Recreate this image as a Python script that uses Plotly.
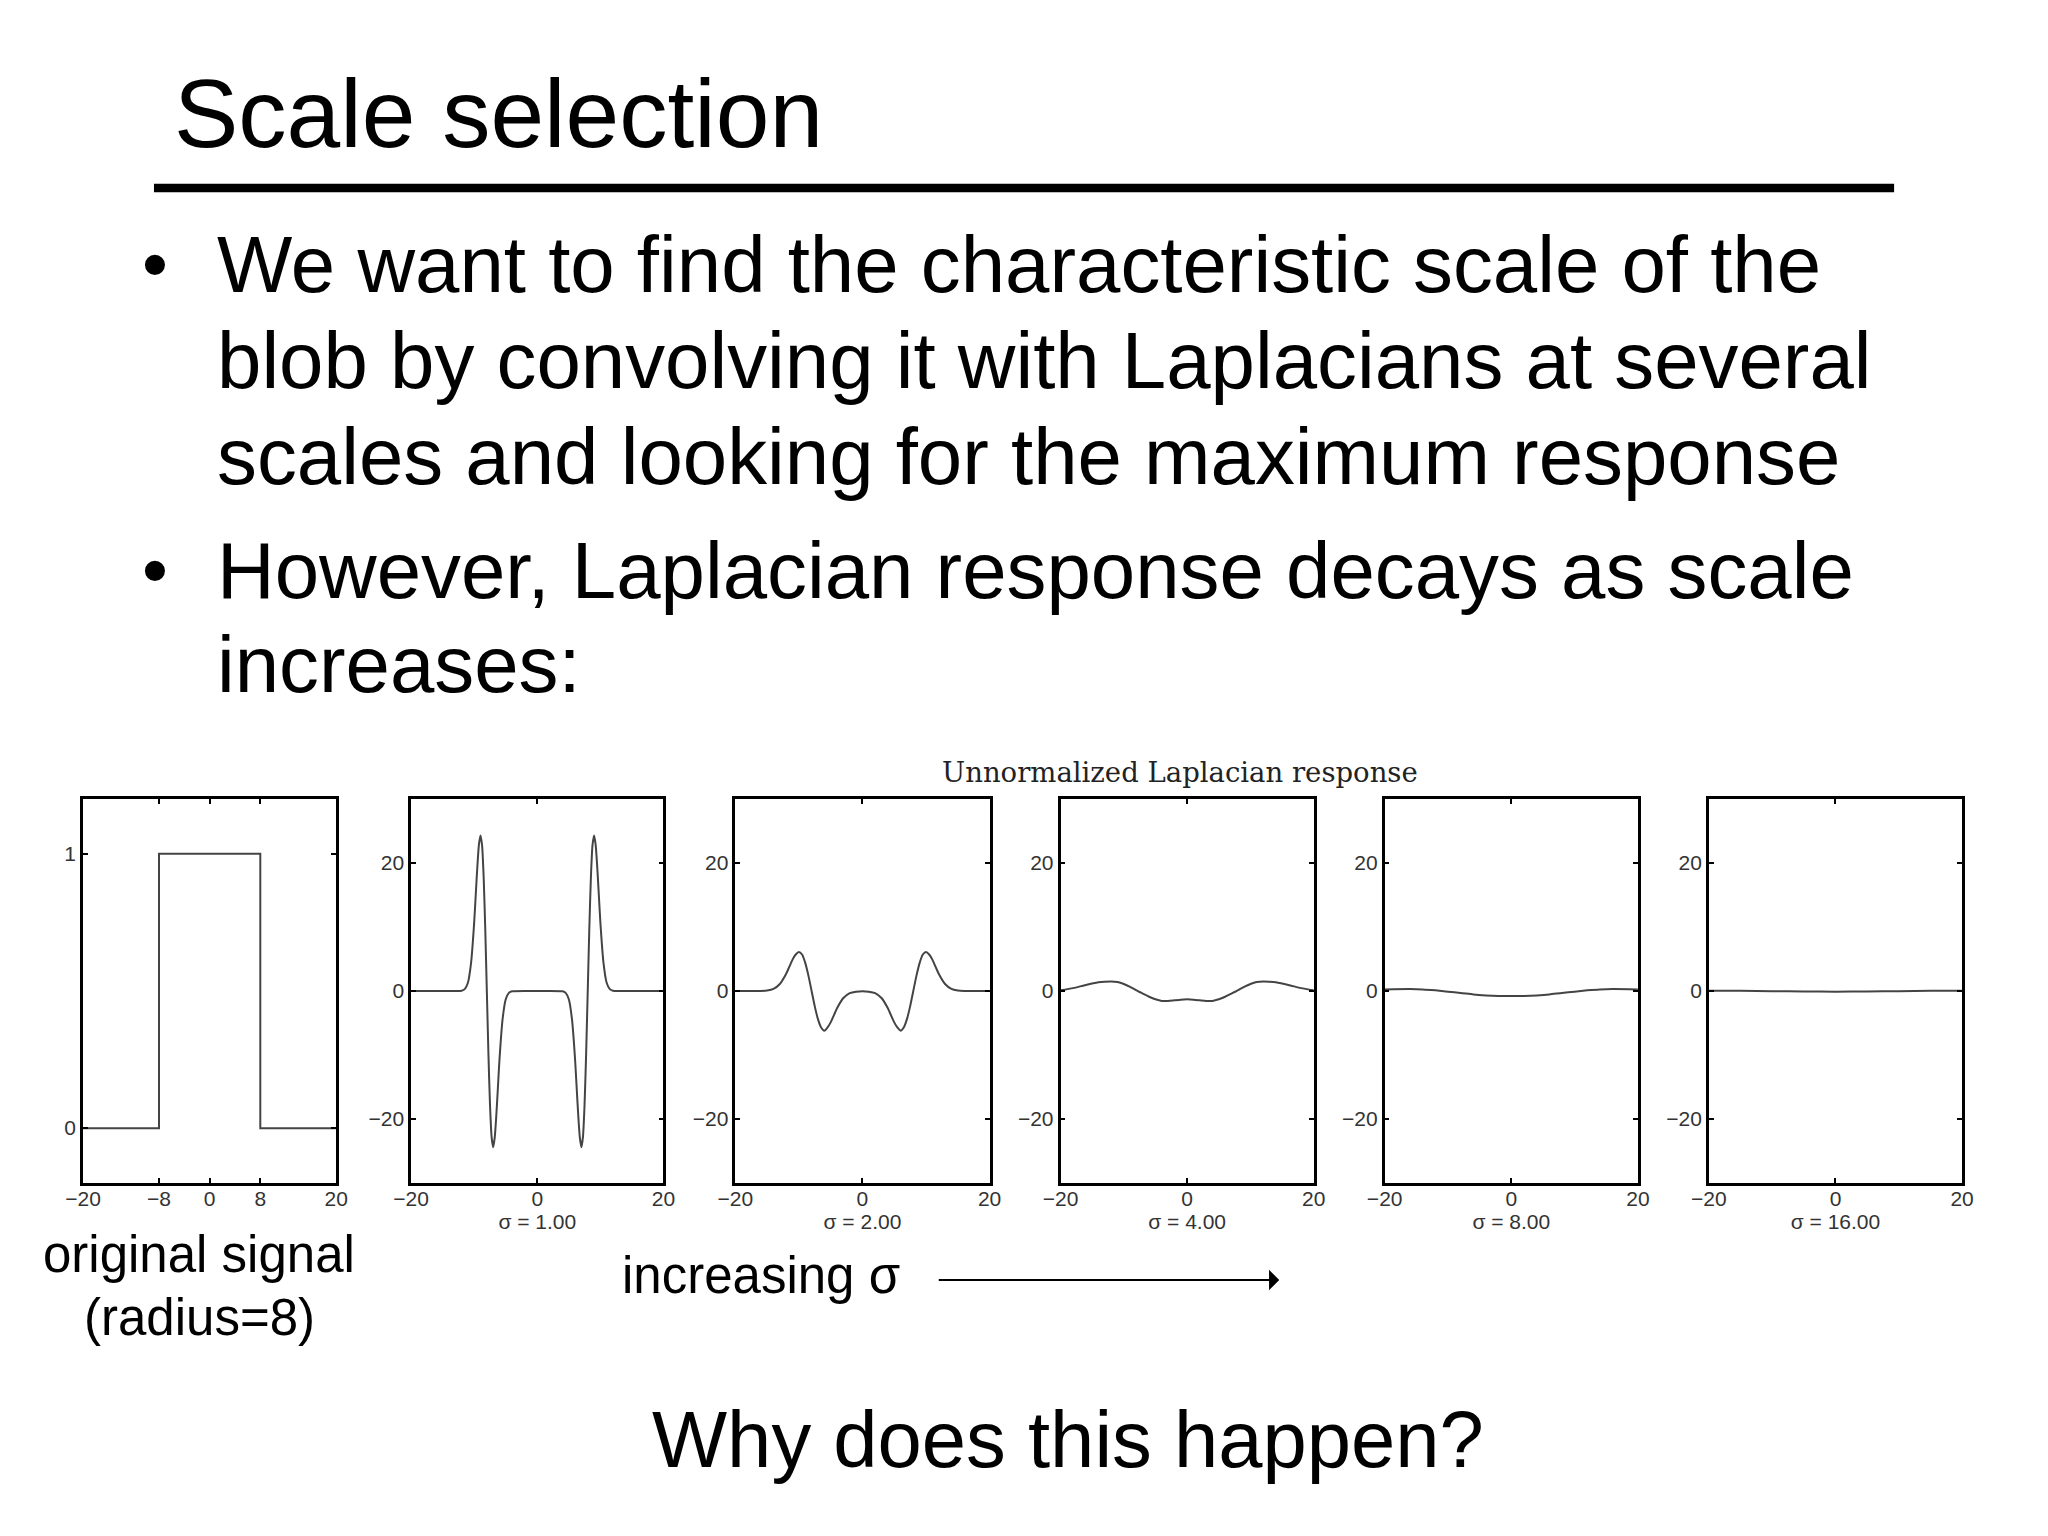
import plotly.graph_objects as go

W, H = 2048, 1536

# ---------- data ----------
x_signal = [-20, -8, -8, 8, 8, 20]
y_signal = [0, 0, 1, 1, 0, 0]

x_s1 = [-20, -13, -12, -11.5, -11, -10.5, -10, -9.75, -9.5, -9.25, -9, -8.75, -8.5, -8.25, -8,
        -7.75, -7.5, -7.25, -7, -6.75, -6.5, -6.25, -6, -5.5, -5, -4.5, -4, 0,
        4, 4.5, 5, 5.5, 6, 6.25, 6.5, 6.75, 7, 7.25, 7.5, 7.75,
        8, 8.25, 8.5, 8.75, 9, 9.25, 9.5, 9.75, 10, 10.5, 11, 11.5, 12, 13, 20]
y_s1 = [0, 0, 0.05, 0.3, 1.3, 4.4, 10.8, 15.2, 19.5, 22.9, 24.3, 22.7, 17.7, 9.7, 0,
        -9.7, -17.7, -22.7, -24.4, -22.9, -19.5, -15.2, -10.8, -4.4, -1.3, -0.3, -0.05, 0,
        -0.05, -0.3, -1.3, -4.4, -10.8, -15.2, -19.5, -22.9, -24.4, -22.7, -17.7, -9.7,
        0, 9.7, 17.7, 22.7, 24.3, 22.9, 19.5, 15.2, 10.8, 4.4, 1.3, 0.3, 0.05, 0, 0]

x_s2 = [-20, -16, -15, -14, -13, -12, -11.5, -11, -10.5, -10, -9.5, -9, -8.5, -8,
        -7.5, -7, -6.5, -6, -5.5, -5, -4.5, -4, -3, -2, -1, 0,
        1, 2, 3, 4, 4.5, 5, 5.5, 6, 6.5, 7, 7.5,
        8, 8.5, 9, 9.5, 10, 10.5, 11, 11.5, 12, 13, 14, 15, 16, 20]
y_s2 = [0, 0.01, 0.08, 0.33, 1.1, 2.7, 3.8, 4.9, 5.7, 6.1, 5.7, 4.4, 2.4, 0,
        -2.4, -4.4, -5.7, -6.2, -5.7, -4.9, -3.8, -2.7, -1.1, -0.33, -0.1, -0.05,
        -0.1, -0.33, -1.1, -2.7, -3.8, -4.9, -5.7, -6.2, -5.7, -4.4, -2.4,
        0, 2.4, 4.4, 5.7, 6.1, 5.7, 4.9, 3.8, 2.7, 1.1, 0.33, 0.08, 0.01, 0]

x_s4 = [-20, -18, -16, -14, -13, -12, -11, -10, -9, -8, -7, -6, -5, -4, -3, -2, -1, 0,
        1, 2, 3, 4, 5, 6, 7, 8, 9, 10, 11, 12, 13, 14, 16, 18, 20]
y_s4 = [0.1, 0.45, 0.95, 1.35, 1.45, 1.5, 1.4, 1.1, 0.65, 0.1, -0.4, -0.9, -1.3, -1.55, -1.55, -1.45, -1.35, -1.3,
        -1.35, -1.45, -1.55, -1.55, -1.3, -0.9, -0.4, 0.1, 0.65, 1.1, 1.4, 1.5, 1.45, 1.35, 0.95, 0.45, 0.1]

x_s8 = [-20, -16, -14, -12, -10, -8, -6, -4, -2, 0, 2, 4, 6, 8, 10, 12, 14, 16, 20]
y_s8 = [0.25, 0.3, 0.25, 0.1, -0.1, -0.3, -0.55, -0.7, -0.78, -0.8,
        -0.78, -0.7, -0.55, -0.3, -0.1, 0.1, 0.25, 0.3, 0.25]

x_s16 = [-20, -15, -10, -5, 0, 5, 10, 15, 20]
y_s16 = [0.05, 0.02, -0.03, -0.08, -0.1, -0.08, -0.03, 0.02, 0.05]

sigma_labels = ["", "σ = 1.00", "σ = 2.00", "σ = 4.00", "σ = 8.00", "σ = 16.00"]
xticks_signal = [-20, -8, 0, 8, 20]
yticks_signal = [0, 1]
xticks_resp = [-20, 0, 20]
yticks_resp = [-20, 0, 20]

body_lines = [
    "We want to find the characteristic scale of the",
    "blob by convolving it with Laplacians at several",
    "scales and looking for the maximum response",
    "However, Laplacian response decays as scale",
    "increases:",
]
# -------------------------------------------------

SANS = "Liberation Sans"
panel_left = [66, 399, 728, 1058, 1387, 1716]
panel_right = [323, 655, 986, 1315, 1644, 1973]
top, bottom = 799, 1183


def px(v):
    return v / W


def py(v):
    return 1 - v / H


fig = go.Figure()
series = [(x_signal, y_signal), (x_s1, y_s1), (x_s2, y_s2), (x_s4, y_s4), (x_s8, y_s8), (x_s16, y_s16)]
for i, (xs, ys) in enumerate(series):
    suffix = "" if i == 0 else str(i + 1)
    fig.add_trace(go.Scatter(
        x=xs, y=ys, mode="lines", xaxis="x" + suffix, yaxis="y" + suffix,
        line=dict(color="#444444", width=2, shape="linear" if i == 0 else "spline", smoothing=0.6),
        showlegend=False, hoverinfo="skip"))
    first = i == 0
    axis_common = dict(showgrid=False, zeroline=False, ticks="inside", ticklen=5, tickwidth=2,
                       tickcolor="#000", showline=True, linecolor="#000", linewidth=2.6,
                       mirror="allticks", tickfont=dict(family=SANS, size=21, color="#333333"))
    fig.layout["xaxis" + suffix] = dict(
        axis_common, domain=[px(panel_left[i]), px(panel_right[i])], range=[-20, 20],
        anchor="y" + suffix, tickmode="array", ticklabelstandoff=-5,
        tickvals=xticks_signal if first else xticks_resp,
        title=dict(text=sigma_labels[i], standoff=0, font=dict(family=SANS, size=21, color="#333333")))
    fig.layout["yaxis" + suffix] = dict(
        axis_common, domain=[py(bottom), py(top)], range=[-0.2, 1.2] if first else [-30, 30],
        anchor="x" + suffix, tickmode="array",
        tickvals=yticks_signal if first else yticks_resp)


def text(s, x, y, size, anchor="left", family=SANS, color="#000"):
    fig.add_annotation(text=s, x=px(x), y=py(y), xref="paper", yref="paper", xanchor=anchor, yanchor="middle",
                       showarrow=False, font=dict(family=family, size=size, color=color))


text("Scale selection", 156, 113, 96.5)
for line, y in zip(body_lines, [264, 361, 456, 570, 665]):
    text(line, 199.5, y, 79.8)
for y in [264, 570]:
    text("•", 139.5, y, 74, anchor="center")
text("Unnormalized Laplacian response", 936, 772, 27.5, family="DejaVu Serif", color="#222")
text("original signal", 184, 1254.5, 51, anchor="center")
text("(radius=8)", 184, 1317, 51, anchor="center")
text("increasing σ", 610.5, 1275.5, 51)
text("Why does this happen?", 1066, 1439, 79.6, anchor="center")

fig.add_shape(type="line", xref="paper", yref="paper", x0=px(138), x1=px(1904), y0=py(188), y1=py(188),
              line=dict(color="#000", width=8.5))
fig.add_annotation(x=px(1280), y=py(1280), ax=-342, ay=0, xref="paper", yref="paper",
                   axref="pixel", ayref="pixel", text="", showarrow=True, arrowhead=1, arrowsize=1.7,
                   arrowwidth=2, arrowcolor="#000")

fig.update_layout(width=W, height=H, margin=dict(l=0, r=0, t=0, b=0), paper_bgcolor="#fff", plot_bgcolor="#fff",
                  showlegend=False)
fig.write_html("out.html", config=dict(displayModeBar=False), post_script="document.body.style.margin='0';")
